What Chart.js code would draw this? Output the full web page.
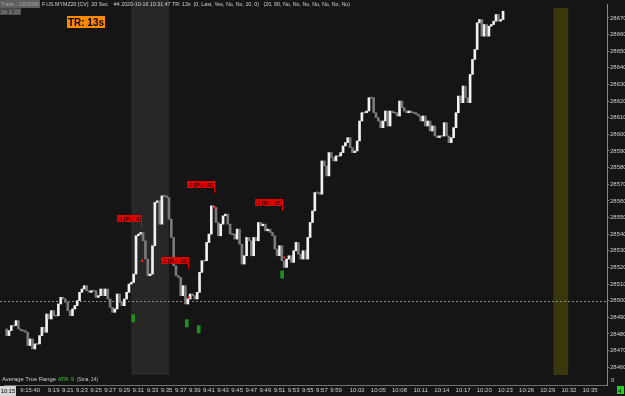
<!DOCTYPE html>
<html>
<head>
<meta charset="utf-8">
<script src="https://cdn.jsdelivr.net/npm/chart.js@4.4.0/dist/chart.umd.min.js"></script>
<style>
  body { margin: 0; background: #151515; }
  #wrap { width: 625px; height: 396px; }
</style>
</head>
<body>
<div id="wrap"><canvas id="myChart"></canvas></div>
<script>
// F.US.MYMZ20, 20 second bars. time is minutes after 9:00
const firstBarTime = 12 + 20 / 60;
const barMinutes = 20 / 60;
const firstOpen = 28483;
const closes = [
  28479, 28482, 28485, 28485, 28488, 28483, 28482, 28482, 28481, 28473, 28477, 28471, 28474, 28474, 28479, 28484, 28481, 28492, 28489, 28494, 28491,
  28491, 28498, 28502, 28501, 28499, 28494, 28491, 28495, 28497, 28500, 28505, 28507, 28509, 28506, 28505, 28506, 28506, 28502, 28503, 28507,
  28503, 28507, 28501, 28496, 28493, 28495, 28504, 28499, 28497, 28501, 28505, 28510, 28511, 28516,
  28539, 28540, 28541, 28536, 28525, 28515, 28516, 28533, 28559, 28560, 28546, 28563, 28563, 28562, 28549, 28538, 28521, 28515,
  28514, 28503, 28509, 28498, 28501, 28504, 28503, 28501, 28505, 28517, 28524, 28524, 28535, 28540, 28557, 28556, 28547, 28539, 28546, 28551, 28552, 28546, 28540, 28540, 28537, 28543, 28534, 28522,
  28527, 28538, 28536, 28527, 28538, 28536, 28547, 28545, 28546, 28542, 28543, 28541, 28539, 28531, 28527, 28533, 28524, 28520, 28525, 28527, 28523, 28530, 28535, 28528, 28525, 28530, 28525, 28538, 28547, 28554, 28565, 28565, 28564,
  28584, 28581, 28575, 28589, 28586, 28584, 28587, 28587, 28589, 28593, 28595, 28598, 28592, 28589, 28590, 28596, 28608, 28613, 28613, 28614, 28622, 28622, 28613, 28610, 28608, 28604, 28608, 28614, 28605, 28614, 28613, 28613, 28611,
  28620, 28616, 28614, 28613, 28614, 28613, 28613, 28612, 28611, 28608, 28611, 28605, 28608, 28602, 28605, 28599, 28598, 28599, 28599, 28607, 28599, 28595, 28598, 28604, 28613, 28623, 28619, 28629, 28622, 28619, 28636,
  28645, 28651, 28667, 28669, 28659, 28666, 28659, 28665, 28666, 28668, 28672, 28668, 28669, 28674
];

const timeLabels = ['9:15:40', '9:19', '9:21', '9:23', '9:25', '9:27', '9:29', '9:31', '9:33', '9:35', '9:37', '9:39', '9:41', '9:43', '9:45', '9:47', '9:49', '9:51', '9:53', '9:55', '9:57', '9:59',
  '10:02', '10:05', '10:08', '10:11', '10:14', '10:17', '10:20', '10:23', '10:26', '10:29', '10:32', '10:35'];
const priceTicks = [28460, 28470, 28480, 28490, 28500, 28510, 28520, 28530, 28540, 28550, 28560, 28570, 28580, 28590, 28600, 28610, 28620, 28630, 28640, 28650, 28660, 28670];

// shaded time ranges and the reference price
const greyBand = [29.98, 35.33];
const yellowBand = [89.8, 91.9];
const refPrice = 28500;

// trade tags (anchor = time/price of the hanging line end)
const tagTimes = [31.39, 41.66, 38.0, 51.37];
const tagPrices = [28544.4, 28564.7, 28519.3, 28554];
const tagTexts = ['-1 [PL: -8]', '-1 [PL: -41]', '-1 [PL: -13]', '-1 [PL: -17]'];

// entry markers
const entryTimes = [30.26, 37.86, 39.55, 51.37];
const entryPrices = [28489.4, 28486.4, 28482.8, 28515.7];
const redDotTimes = [31.53, 38.14, 41.8, 51.65];
const redDotPrices = [28524, 28502, 28556, 28526];

function parseTime(s) {
  const p = s.split(':').map(Number);
  return (p[0] - 9) * 60 + p[1] + (p[2] || 0) / 60;
}
const timeTicks = timeLabels.map(parseTime);

const barData = closes.map((c, i) => {
  const o = i === 0 ? firstOpen : closes[i - 1];
  const y = o === c ? [c - 0.35, c + 0.35] : [o, c];
  return { x: firstBarTime + i * barMinutes, y: y };
});
const barColors = closes.map((c, i) => {
  const o = i === 0 ? firstOpen : closes[i - 1];
  return c > o ? '#f2f2f2' : '#7a7a7a';
});

const entryData = entryTimes.map((t, i) => ({ x: t, y: [entryPrices[i] - 2.2, entryPrices[i] + 2.2] }));
const redData = redDotTimes.map((t, i) => ({ x: t, y: redDotPrices[i] }));

const overlay = {
  id: 'overlay',
  beforeDraw(chart) {
    const ctx = chart.ctx;
    const x = chart.scales.x, y = chart.scales.y;
    const a = chart.chartArea;
    ctx.save();
    ctx.fillStyle = '#151515';
    ctx.fillRect(0, 0, chart.width, chart.height);
    ctx.fillStyle = '#272727';
    ctx.fillRect(x.getPixelForValue(greyBand[0]), 0, x.getPixelForValue(greyBand[1]) - x.getPixelForValue(greyBand[0]), 375);
    ctx.fillStyle = '#38380c';
    ctx.fillRect(x.getPixelForValue(yellowBand[0]), 8, x.getPixelForValue(yellowBand[1]) - x.getPixelForValue(yellowBand[0]), 367);
    // dashed reference line
    const ry = Math.round(y.getPixelForValue(refPrice)) + 0.5;
    ctx.strokeStyle = '#8a8a8a';
    ctx.lineWidth = 1;
    ctx.setLineDash([2, 2]);
    ctx.beginPath();
    ctx.moveTo(0, ry);
    ctx.lineTo(a.right, ry);
    ctx.stroke();
    ctx.setLineDash([]);
    ctx.restore();
  },
  afterDraw(chart) {
    const ctx = chart.ctx;
    const x = chart.scales.x, y = chart.scales.y;
    ctx.save();
    ctx.textBaseline = 'alphabetic';

    // trade tags
    ctx.font = 'bold 6px "Liberation Sans"';
    tagTimes.forEach((t, i) => {
      const px = Math.round(x.getPixelForValue(t));
      const py = Math.round(y.getPixelForValue(tagPrices[i]));
      const w = 24 + (tagTexts[i].length - 11) * 3;
      ctx.fillStyle = '#e00000';
      ctx.fillRect(px - w, py - 12, w + 1, 7);
      ctx.fillRect(px, py - 12, 1, 12);
      ctx.fillStyle = '#300000';
      ctx.fillText(tagTexts[i], px - w + 1, py - 6, w - 1);
    });

    // header
    ctx.font = '6px "Liberation Sans"';
    ctx.fillStyle = '#5e5e5e';
    ctx.fillRect(0, 0, 40, 8);
    ctx.fillStyle = '#a8a8a8';
    ctx.fillText('Trade : 10/29/00', 1, 6, 38);
    ctx.fillStyle = '#d2d2d2';
    ctx.fillText('F.US.MYMZ20 [CV]  20 Sec    #4 2020-10-16 10:31:47 TR: 13s  (0, Last, Yes, No, No, 10, 0)   (20, 90, No, No, No, No, No, No, No)', 42, 6, 308);
    ctx.fillStyle = '#4a4a4a';
    ctx.fillRect(0, 8, 21, 7);
    ctx.fillStyle = '#9a9a9a';
    ctx.fillText('2h 1:33', 1, 14, 19);

    ctx.fillStyle = '#ff8a00';
    ctx.fillRect(67, 16, 38, 12);
    ctx.fillStyle = '#000000';
    ctx.font = 'bold 10px "Liberation Sans"';
    ctx.fillText('TR: 13s', 68, 26, 36);

    // indicator pane caption
    ctx.font = '6px "Liberation Sans"';
    ctx.fillStyle = '#cfcfcf';
    ctx.fillText('Average True Range', 2, 381, 54);
    ctx.fillStyle = '#3ccc3c';
    ctx.fillText('ATR: 9', 58, 381, 16);
    ctx.fillStyle = '#cfcfcf';
    ctx.fillText('(Sma, 14)', 77, 381, 21);
    ctx.fillText('0', 611, 382);

    // cursor time box and counter
    ctx.fillStyle = '#d6d6d6';
    ctx.fillRect(0, 386, 16, 10);
    ctx.fillStyle = '#000000';
    ctx.fillText('10:15', 1, 393, 14);
    ctx.fillStyle = '#22d022';
    ctx.fillRect(617, 386, 7, 8);
    ctx.fillStyle = '#000000';
    ctx.fillText('4', 618, 393);
    ctx.restore();
  }
};

new Chart(document.getElementById('myChart'), {
  data: {
    datasets: [{
      type: 'bar',
      data: barData,
      backgroundColor: barColors,
      barThickness: 2,
      grouped: false,
      order: 2
    }, {
      type: 'bar',
      data: entryData,
      backgroundColor: '#1f8f1f',
      barThickness: 3,
      grouped: false,
      order: 1
    }, {
      type: 'scatter',
      data: redData,
      backgroundColor: '#ff2020',
      borderWidth: 0,
      pointRadius: 1.2,
      order: 0
    }]
  },
  options: {
    responsive: true,
    maintainAspectRatio: false,
    animation: false,
    layout: { padding: 0 },
    plugins: {
      legend: { display: false },
      tooltip: { enabled: false }
    },
    scales: {
      x: {
        type: 'linear',
        position: 'bottom',
        offset: false,
        min: 11.963,
        max: 97.395,
        afterBuildTicks: (scale) => { scale.ticks = timeTicks.map(v => ({ value: v })); },
        afterFit: (scale) => { scale.height = 11; scale.paddingLeft = 0; scale.paddingRight = 0; },
        grid: { display: false, drawTicks: false },
        border: { display: true, color: '#707070' },
        ticks: {
          autoSkip: false,
          maxRotation: 0,
          padding: 2,
          color: '#cfcfcf',
          font: { family: 'Liberation Sans', size: 6 },
          callback: (v) => timeLabels[timeTicks.indexOf(v)]
        }
      },
      y: {
        type: 'linear',
        position: 'right',
        min: 28449.3,
        max: 28678.33,
        afterBuildTicks: (scale) => { scale.ticks = priceTicks.map(v => ({ value: v })); },
        afterFit: (scale) => { scale.width = 18; scale.paddingTop = 0; scale.paddingBottom = 0; },
        grid: { drawOnChartArea: false, drawTicks: true, tickLength: 2, color: '#8a8a8a' },
        border: { display: true, color: '#8a8a8a' },
        ticks: {
          padding: 1,
          color: '#cfcfcf',
          font: { family: 'Liberation Sans', size: 6 },
          callback: (v) => String(v)
        }
      }
    }
  },
  plugins: [overlay]
});
</script>
</body>
</html>
